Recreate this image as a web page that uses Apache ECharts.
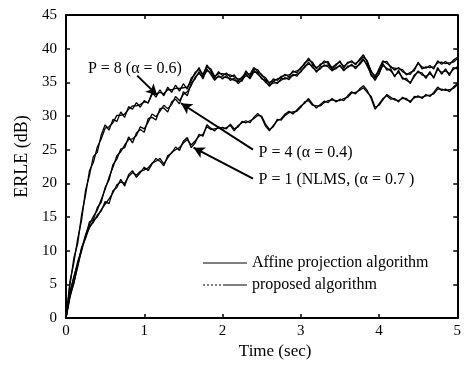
<!DOCTYPE html>
<html><head><meta charset="utf-8">
<script src="https://cdn.jsdelivr.net/npm/echarts@6/dist/echarts.min.js"></script>
<style>html,body{margin:0;padding:0;background:#fff}#c{width:464px;height:365px}</style>
</head><body><div id="c"></div>
<script>
// time axis (sec)
var timeSec = [0,0.05,0.1,0.15,0.2,0.25,0.3,0.35,0.4,0.45,
0.5,0.55,0.6,0.65,0.7,0.75,0.8,0.85,0.9,0.95,
1,1.05,1.1,1.15,1.2,1.25,1.3,1.35,1.4,1.45,
1.5,1.55,1.6,1.65,1.7,1.75,1.8,1.85,1.9,1.95,
2,2.05,2.1,2.15,2.2,2.25,2.3,2.35,2.4,2.45,
2.5,2.55,2.6,2.65,2.7,2.75,2.8,2.85,2.9,2.95,
3,3.05,3.1,3.15,3.2,3.25,3.3,3.35,3.4,3.45,
3.5,3.55,3.6,3.65,3.7,3.75,3.8,3.85,3.9,3.95,
4,4.05,4.1,4.15,4.2,4.25,4.3,4.35,4.4,4.45,
4.5,4.55,4.6,4.65,4.7,4.75,4.8,4.85,4.9,4.95,5];

// P = 1 (NLMS), affine projection
var affineP1 = [0,3.0,5.3,7.6,10.4,11.8,13.6,14.2,15.3,15.9,
17.3,17.0,18.9,19.4,20.6,19.6,21.3,21.9,20.9,21.6,
22.4,21.9,22.9,23.7,23.3,22.6,24.1,24.5,25.4,24.9,
26.3,26.8,25.3,26.0,27.3,27.0,28.7,28.2,27.8,28.4,
28.0,28.3,28.6,27.8,28.6,29.0,29.3,29.0,29.8,30.4,
29.8,28.5,27.8,28.6,29.3,29.6,30.3,30.7,30.3,30.9,
31.5,31.9,32.6,31.8,31.2,31.7,32.2,32.0,32.6,32.1,
32.5,32.3,33.0,33.6,33.3,34.0,34.5,33.8,32.6,31.0,
31.8,32.6,33.0,32.5,32.6,32.1,32.8,32.4,32.2,32.7,
33.0,32.6,33.2,32.9,33.5,34.3,33.8,34.0,33.6,34.3,34.8];
// P = 1, proposed
var proposedP1 = [0,3.3,5.1,7.9,10.0,12.2,13.4,14.5,15.0,16.1,
16.9,17.7,18.6,19.8,20.2,20.0,21.0,21.6,21.2,21.8,
22.0,22.3,23.0,23.3,23.7,22.9,23.8,24.6,25.0,25.3,
26.0,26.5,25.7,26.3,27.0,27.3,28.4,28.0,28.1,28.2,
28.3,28.1,28.8,28.1,28.4,29.2,29.0,29.3,29.6,30.1,
30.0,28.8,28.0,28.4,29.5,29.4,30.1,30.5,30.6,30.7,
31.3,32.1,32.3,31.6,31.5,31.5,32.0,32.3,32.4,32.3,
32.3,32.6,32.8,33.4,33.5,33.8,34.2,33.5,32.9,31.3,
31.6,32.4,33.2,32.8,32.4,32.3,32.6,32.6,32.0,32.9,
32.8,32.8,33.0,33.1,33.3,34.0,34.0,33.8,33.9,34.1,34.6];
// P = 4, affine projection
var affineP4 = [0,3.6,6.2,8.0,10.5,12.0,14.3,14.6,16.4,17.2,
19.4,20.5,22.8,23.6,25.1,25.3,26.9,26.0,27.5,28.0,
27.6,29.6,29.8,29.4,31.1,31.2,30.6,32.1,32.5,31.8,
33.6,33.0,34.9,35.5,36.6,35.5,37.0,36.2,35.3,36.0,
35.5,36.0,35.3,35.6,34.8,35.4,36.0,35.7,36.8,36.2,
35.7,35.0,34.6,34.9,35.0,35.3,35.7,35.4,36.2,35.9,
36.7,37.2,38.0,37.2,36.7,37.0,37.6,37.3,36.7,37.2,
37.4,36.9,37.2,37.7,37.0,37.8,38.5,37.4,36.2,35.3,
36.4,37.5,37.1,36.7,36.0,36.5,35.7,35.3,35.0,35.8,
36.7,36.1,35.9,36.3,35.8,36.9,36.5,36.7,36.3,36.9,37.3];
// P = 4, proposed
var proposedP4 = [0,3.9,6.0,8.4,10.2,12.4,13.9,15.1,16.0,17.6,
19.1,20.9,22.4,24.1,24.7,25.7,26.5,26.6,27.1,28.4,
28.1,29.1,30.3,29.9,30.7,31.6,31.1,31.7,32.9,32.3,
33.2,33.6,34.5,35.8,36.3,35.8,36.7,36.5,35.6,35.8,
35.8,35.7,35.6,35.3,35.1,35.2,36.3,35.5,36.5,36.5,
35.5,35.3,34.4,35.2,34.8,35.6,35.5,35.7,36.0,36.2,
36.5,37.4,37.7,37.5,36.5,37.3,37.4,37.6,36.9,37.0,
37.6,36.7,37.4,37.5,37.3,37.6,38.3,37.7,36.0,35.6,
36.2,37.8,36.8,37.0,35.8,36.8,35.5,35.6,34.8,36.1,
36.5,36.4,35.6,36.6,35.6,37.2,36.2,37.0,36.0,37.2,37.0];
// P = 8, affine projection
var affineP8 = [0,5.4,8.2,11.8,14.6,19.0,21.2,24.0,24.6,27.2,
28.7,27.9,29.5,29.2,30.6,29.8,31.4,31.0,32.0,31.3,
32.3,31.9,33.5,32.8,33.9,33.0,34.3,33.5,34.6,33.7,
34.8,34.0,35.6,36.2,37.2,35.9,37.6,36.7,35.7,36.6,
36.0,36.4,35.8,36.1,35.2,35.8,36.4,36.2,37.2,36.6,
36.2,35.4,35.0,35.2,35.5,35.7,36.2,35.8,36.7,36.4,
37.2,37.7,38.6,37.7,37.2,37.5,38.2,37.8,37.2,37.7,
38.0,37.4,37.8,38.2,37.6,38.4,39.1,38.0,36.7,35.7,
37.0,38.2,37.8,37.4,36.8,37.2,36.6,36.3,36.2,37.0,
37.8,37.3,37.1,37.5,37.0,38.2,37.7,38.1,37.6,38.3,38.7];
// P = 8, proposed
var proposedP8 = [0,4.8,8.9,11.1,15.4,18.3,21.9,23.1,25.4,26.6,
28.2,28.4,29.0,30.1,30.1,30.3,31.0,31.5,31.5,31.7,
32.1,32.0,33.2,33.3,33.5,33.3,33.9,33.9,34.1,34.1,
34.2,34.3,35.2,36.5,36.9,36.2,37.3,37.0,35.9,36.3,
36.3,36.1,36.1,35.8,35.5,35.5,36.7,35.9,37.0,36.9,
36.0,35.7,34.8,35.5,35.3,35.9,36.0,36.1,36.5,36.7,
37.0,37.9,38.3,38.0,37.0,37.7,37.9,38.1,37.0,37.5,
38.2,37.1,38.0,38.0,37.8,38.2,38.8,38.2,36.5,36.0,
36.7,38.0,38.1,37.2,37.1,37.0,36.9,36.1,36.5,36.7,
38.0,37.0,37.3,37.2,37.3,37.9,38.0,37.8,37.9,38.0,38.5];

var xTicks = [0,1,2,3,4,5];
var yTicks = [0,5,10,15,20,25,30,35,40,45];

// annotations (data units)
var annTexts = ['P = 8 (\u03B1 = 0.6)', 'P = 4 (\u03B1 = 0.4)', 'P = 1 (NLMS, (\u03B1 = 0.7 )'];
var annTextPos = [[0.28, 37.0], [2.46, 24.6], [2.46, 20.5]];
var arrowFrom = [[0.91, 36.0], [2.39, 25.0], [2.39, 20.7]];
var arrowTo = [[1.165, 33.1], [1.47, 31.9], [1.63, 25.3]];

function pairs(vals){ return timeSec.map(function(t,i){ return [t, vals[i]]; }); }

var FONT = 'Liberation Serif';
var chart = echarts.init(document.getElementById('c'), null, {renderer:'canvas'});

function lineSeries(name, vals){
  return {type:'line', name:name, data:pairs(vals), symbol:'none', showSymbol:false,
    lineStyle:{color:'#000', width:1.3}, itemStyle:{color:'#000'}, animation:false, z:3};
}

var series = [
  lineSeries('Affine projection algorithm', affineP1),
  lineSeries('proposed algorithm', proposedP1),
  lineSeries('Affine projection algorithm', affineP4),
  lineSeries('proposed algorithm', proposedP4),
  lineSeries('Affine projection algorithm', affineP8),
  lineSeries('proposed algorithm', proposedP8)
];
series[0].markLine = {
  silent:true, animation:false, symbol:['none','arrow'], symbolSize:[9,11],
  label:{show:false}, lineStyle:{color:'#000', width:2, type:'solid'},
  data: arrowFrom.map(function(f,i){ return [{coord:f},{coord:arrowTo[i]}]; })
};

var axisCommon = {
  type:'value', axisLine:{show:true, onZero:false, lineStyle:{color:'#000', width:2}},
  axisTick:{show:true, inside:true, length:4, lineStyle:{color:'#000', width:1.5}},
  splitLine:{show:false}
};

chart.setOption({
  animation:false,
  backgroundColor:'#fff',
  grid:{left:66, right:3, top:15, bottom:41, containLabel:false},
  legend:{
    data:[
      {name:'Affine projection algorithm', icon:'path://M0,0h44v1h-44z'},
      {name:'proposed algorithm', icon:'path://M0,0h2v1h-2zM4,0h2v1h-2zM8,0h2v1h-2zM12,0h2v1h-2zM16,0h2v1h-2zM20,0h24v1h-24z'}
    ],
    orient:'vertical', left:203, top:255, padding:0, itemWidth:44, itemHeight:1.3, itemGap:6,
    itemStyle:{color:'#000'},
    textStyle:{fontFamily:FONT, fontSize:16, color:'#000', lineHeight:14}
  },
  xAxis:[
    Object.assign({}, axisCommon, {min:0, max:5, interval:1, position:'bottom',
      name:'Time (sec)', nameLocation:'middle', nameGap:17,
      nameTextStyle:{fontFamily:FONT, fontSize:17, color:'#000', padding:[0,0,0,27]},
      axisLabel:{fontFamily:FONT, fontSize:15, color:'#000', margin:5}}),
    Object.assign({}, axisCommon, {min:0, max:5, interval:1, position:'top', axisLabel:{show:false}})
  ],
  yAxis:[
    Object.assign({}, axisCommon, {min:0, max:45, interval:5, position:'left',
      name:'ERLE (dB)', nameLocation:'middle', nameGap:34,
      nameTextStyle:{fontFamily:FONT, fontSize:18, color:'#000', padding:[0,0,0,20]},
      axisLabel:{fontFamily:FONT, fontSize:15, color:'#000', margin:9}}),
    Object.assign({}, axisCommon, {min:0, max:45, interval:5, position:'right', axisLabel:{show:false}})
  ],
  series: series
});

var gfx = annTexts.map(function(txt, i){
  var p = chart.convertToPixel({gridIndex:0}, annTextPos[i]);
  return {type:'text', left:p[0], top:p[1]-8, z:10,
    style:{text:txt, font:'16px "Liberation Serif"', fill:'#000'}};
});
chart.setOption({graphic: gfx});
</script></body></html>
